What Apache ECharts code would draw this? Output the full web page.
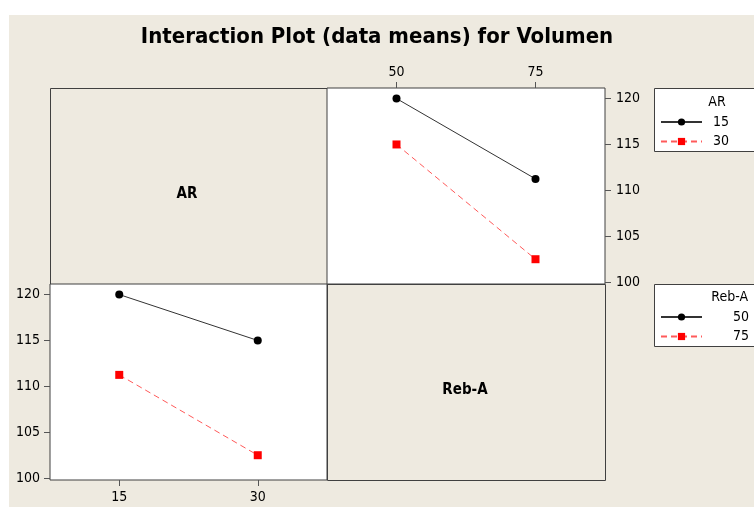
<!DOCTYPE html>
<html>
<head>
<meta charset="utf-8">
<script src="https://cdn.jsdelivr.net/npm/echarts@6/dist/echarts.min.js"></script>
<style>
html, body { margin: 0; padding: 0; background: #fff; }
#bg { position: absolute; left: 9px; top: 15px; width: 745px; height: 492px; background: #EEEAE0; }
#chart { position: absolute; left: 0; top: 0; width: 754px; height: 507px; }
</style>
</head>
<body>
<div id="bg"></div>
<div id="chart"></div>
<script>
// factor levels
var rebLevels = [50, 75];
var arLevels = [15, 30];
// means of Volumen, one row per AR level (columns = Reb-A 50, 75)
var meansAR15 = [120, 111.25];
var meansAR30 = [115, 102.5];
// same means, one row per Reb-A level (columns = AR 15, 30)
var meansReb50 = [meansAR15[0], meansAR30[0]];
var meansReb75 = [meansAR15[1], meansAR30[1]];
var yTicks = [100, 105, 110, 115, 120];

var FONT = "'DejaVu Sans Condensed', 'DejaVu Sans', sans-serif";

function pairs(xs, ys) {
	return xs.map(function (x, i) { return [x, ys[i]]; });
}

var chart = echarts.init(document.getElementById('chart'), null, { renderer: 'canvas' });

var blackLine = {
	symbol: 'circle',
	symbolSize: 8,
	itemStyle: { color: '#000' },
	lineStyle: { color: '#333', width: 1 }
};
var redLine = {
	symbol: 'rect',
	symbolSize: 8,
	itemStyle: { color: '#ff0000' },
	lineStyle: { color: '#ff5a5a', width: 1, type: [6, 4] }
};

function tickStyle() {
	return { show: true, length: 6, lineStyle: { color: '#555', width: 1 } };
}
function labelStyle(vals, margin) {
	return { customValues: vals, margin: margin, color: '#000', fontSize: 14, fontFamily: FONT };
}

var option = {
	animation: false,
	backgroundColor: 'transparent',
	title: {
		text: 'Interaction Plot (data means) for Volumen',
		left: 'center',
		top: 21,
		textStyle: { fontSize: 22, fontWeight: 'bold', color: '#000', fontFamily: FONT }
	},
	grid: [
		{ left: 327, top: 88, width: 278, height: 196, show: true, backgroundColor: '#fff', borderColor: '#404040', borderWidth: 1 },
		{ left: 50, top: 284, width: 277, height: 196, show: true, backgroundColor: '#fff', borderColor: '#404040', borderWidth: 1 }
	],
	xAxis: [
		{
			gridIndex: 0, type: 'value', position: 'top', min: 37.5, max: 87.5,
			axisLine: { show: false }, splitLine: { show: false },
			axisTick: Object.assign(tickStyle(), { customValues: rebLevels }),
			axisLabel: labelStyle(rebLevels, 9)
		},
		{
			gridIndex: 1, type: 'value', position: 'bottom', min: 7.5, max: 37.5,
			axisLine: { show: false }, splitLine: { show: false },
			axisTick: Object.assign(tickStyle(), { customValues: arLevels }),
			axisLabel: labelStyle(arLevels, 10)
		}
	],
	yAxis: [
		{
			gridIndex: 0, type: 'value', position: 'right', min: 99.8, max: 121.15,
			axisLine: { show: false }, splitLine: { show: false },
			axisTick: Object.assign(tickStyle(), { customValues: yTicks }),
			axisLabel: labelStyle(yTicks, 11)
		},
		{
			gridIndex: 1, type: 'value', position: 'left', min: 99.8, max: 121.15,
			axisLine: { show: false }, splitLine: { show: false },
			axisTick: Object.assign(tickStyle(), { customValues: yTicks }),
			axisLabel: labelStyle(yTicks, 10)
		}
	],
	legend: [
		{
			data: ['15', '30'],
			orient: 'vertical',
			left: 660, top: 115, padding: 0,
			itemWidth: 41, itemHeight: 9, itemGap: 5.5,
			textStyle: { fontSize: 14, lineHeight: 14, color: '#000', fontFamily: FONT, padding: [0, 0, 0, 6] }
		},
		{
			data: ['50', '75'],
			orient: 'vertical',
			left: 660, top: 310, padding: 0,
			itemWidth: 41, itemHeight: 9, itemGap: 5.5,
			textStyle: { fontSize: 14, lineHeight: 14, color: '#000', fontFamily: FONT, padding: [0, 0, 0, 26] }
		}
	],
	graphic: [
		// empty diagonal panels
		{ type: 'rect', shape: { x: 50.5, y: 88.5, width: 277, height: 196 }, style: { fill: '#EEEAE0', stroke: '#404040', lineWidth: 1 }, z: -1 },
		{ type: 'rect', shape: { x: 327.5, y: 284.5, width: 278, height: 196 }, style: { fill: '#EEEAE0', stroke: '#404040', lineWidth: 1 }, z: -1 },
		{ type: 'text', x: 187, y: 194, style: { text: 'AR', fill: '#000', font: 'bold 15px ' + FONT, textAlign: 'center', textVerticalAlign: 'middle' } },
		{ type: 'text', x: 465, y: 390, style: { text: 'Reb-A', fill: '#000', font: 'bold 15px ' + FONT, textAlign: 'center', textVerticalAlign: 'middle' } },
		// legend frames
		{ type: 'rect', shape: { x: 654.5, y: 88.5, width: 110, height: 63 }, style: { fill: '#fff', stroke: '#404040', lineWidth: 1 }, z: -1 },
		{ type: 'rect', shape: { x: 654.5, y: 284.5, width: 110, height: 62 }, style: { fill: '#fff', stroke: '#404040', lineWidth: 1 }, z: -1 },
		{ type: 'text', x: 717, y: 102, style: { text: 'AR', fill: '#000', font: '14px ' + FONT, textAlign: 'center', textVerticalAlign: 'middle' } },
		{ type: 'text', x: 748, y: 297, style: { text: 'Reb-A', fill: '#000', font: '14px ' + FONT, textAlign: 'right', textVerticalAlign: 'middle' } }
	],
	series: [
		Object.assign({ name: '15', type: 'line', xAxisIndex: 0, yAxisIndex: 0, data: pairs(rebLevels, meansAR15) }, blackLine),
		Object.assign({ name: '30', type: 'line', xAxisIndex: 0, yAxisIndex: 0, data: pairs(rebLevels, meansAR30) }, redLine),
		Object.assign({ name: '50', type: 'line', xAxisIndex: 1, yAxisIndex: 1, data: pairs(arLevels, meansReb50) }, blackLine),
		Object.assign({ name: '75', type: 'line', xAxisIndex: 1, yAxisIndex: 1, data: pairs(arLevels, meansReb75) }, redLine)
	]
};

chart.setOption(option);
</script>
</body>
</html>
